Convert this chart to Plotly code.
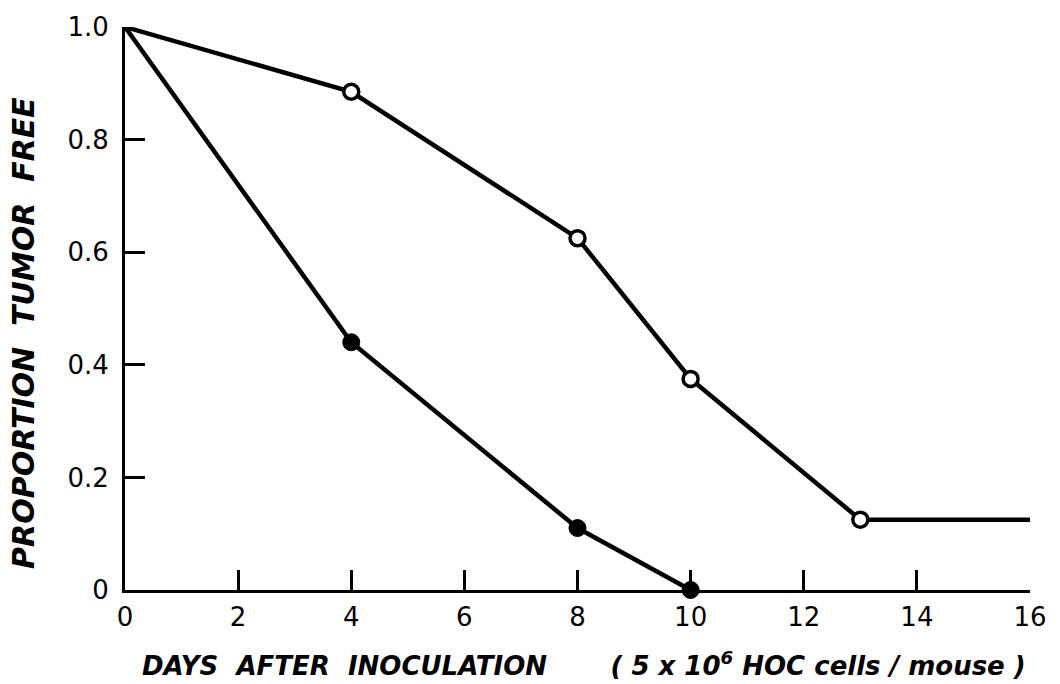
import plotly.graph_objects as go

days_open = [0, 4, 8, 10, 13, 16]
prop_open = [1.0, 0.885, 0.625, 0.375, 0.125, 0.125]
marker_open = [False, True, True, True, True, False]

days_filled = [0, 4, 8, 10]
prop_filled = [1.0, 0.44, 0.11, 0.0]
marker_filled = [False, True, True, True]

x_ticks = [0, 2, 4, 6, 8, 10, 12, 14, 16]
y_ticks = [0, 0.2, 0.4, 0.6, 0.8, 1.0]
y_ticktext = ["0", "0.2", "0.4", "0.6", "0.8", "1.0"]

fig = go.Figure()

fig.add_trace(go.Scatter(x=days_open, y=prop_open, mode="lines",
                         line=dict(color="black", width=4.5), showlegend=False, cliponaxis=False))
fig.add_trace(go.Scatter(x=days_filled, y=prop_filled, mode="lines",
                         line=dict(color="black", width=4.5), showlegend=False, cliponaxis=False))
fig.add_trace(go.Scatter(x=[d for d, m in zip(days_open, marker_open) if m],
                         y=[p for p, m in zip(prop_open, marker_open) if m],
                         mode="markers",
                         marker=dict(symbol="circle", size=15, color="white",
                                     line=dict(color="black", width=3.5)),
                         showlegend=False, cliponaxis=False))
fig.add_trace(go.Scatter(x=[d for d, m in zip(days_filled, marker_filled) if m],
                         y=[p for p, m in zip(prop_filled, marker_filled) if m],
                         mode="markers",
                         marker=dict(symbol="circle", size=17, color="black",
                                     line=dict(color="black", width=1)),
                         showlegend=False, cliponaxis=False))

tick_font = "DejaVu Sans"
title_font = "DejaVu Sans"

fig.update_xaxes(range=[0, 16], tickvals=x_ticks, ticks="inside", ticklen=20, tickwidth=2.5,
                 tickcolor="black", showline=True, linecolor="black", linewidth=3,
                 showgrid=False, zeroline=False, ticklabelstandoff=2,
                 tickfont=dict(family=tick_font, size=26, color="black"))
fig.update_yaxes(range=[0, 1.0], tickvals=y_ticks, ticktext=y_ticktext, ticks="inside",
                 ticklen=20, tickwidth=2.5, tickcolor="black", showline=True,
                 linecolor="black", linewidth=3, showgrid=False, zeroline=False,
                 ticklabelstandoff=8,
                 tickfont=dict(family=tick_font, size=26, color="black"))

fig.add_annotation(xref="paper", yref="paper", x=-0.112, y=0.456, xanchor="center", yanchor="middle",
                   text="<b><i>PROPORTION  TUMOR  FREE</i></b>", textangle=-90, showarrow=False,
                   font=dict(family=title_font, size=30, color="black"))
fig.add_annotation(xref="paper", yref="paper", x=0.507, y=-0.132, xanchor="center", yanchor="middle",
                   text="<b><i>DAYS  AFTER  INOCULATION       ( 5 x 10<sup>6</sup> HOC cells / mouse )</i></b>",
                   showarrow=False,
                   font=dict(family=title_font, size=26, color="black"))

fig.update_layout(width=1060, height=684, plot_bgcolor="white", paper_bgcolor="white",
                  margin=dict(l=125, r=30, t=20, b=94))

fig.write_html("out.html", config={"displayModeBar": False},
               post_script="document.body.style.margin='0';document.body.style.padding='0';document.body.style.overflow='hidden';")
